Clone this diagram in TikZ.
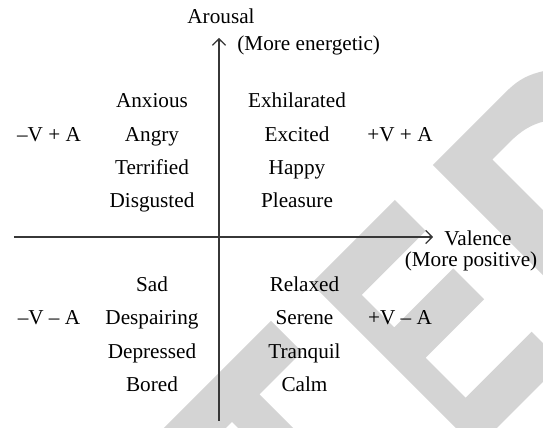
\documentclass[tikz,border=0pt]{standalone}
\usepackage{fontspec}
\setmainfont{Liberation Serif}
\usetikzlibrary{arrows.meta}
\definecolor{wmgray}{RGB}{212,212,212}
\definecolor{axisgray}{RGB}{55,55,55}

\begin{document}
\begin{tikzpicture}[x=0.5pt, y=-0.5pt,
    wordlbl/.style={font=\fontsize{10.6}{12}\selectfont, inner sep=0pt, anchor=base},
    axisline/.style={draw=axisgray, line width=0.65pt, -{Straight Barb[length=3.2pt,width=6.6pt]}},
    wmark/.style={fill=wmgray, draw=none}]
    \useasboundingbox (0,0) rectangle (543,428);

    % Watermark in the background
    \begin{scope}
        \clip (0,0) rectangle (543,428);
        \fill[wmark] (271,321) -- (302,352) -- (259.5,394.5) -- (432.5,567.5) -- (405,595)
            -- (232,422) -- (127,527) -- (96,496) -- cycle;
        \fill[wmark] (311.5,283.5) -- (395,200) -- (425.85,230.85) -- (361.85,294.85)
            -- (394.35,327.35) -- (453.35,268.35) -- (484.2,299.2) -- (425.7,357.7)
            -- (465.7,397.7) -- (531.7,331.7) -- (562.5,362.5) -- (476.5,448.5) -- cycle;
        \fill[wmark, even odd rule] (433,165) -- (509,89) .. controls (524,75) and (536,72) .. (560,68)
            -- (620,68) -- (620,352) -- cycle
            (492.5,159.5) -- (513.5,138.5) .. controls (525,128) and (535,123) .. (550,120)
            -- (620,115) -- (620,287) -- cycle;
    \end{scope}

    % Axes
    \coordinate (vbot) at (219,421);
    \coordinate (vtop) at (219,38);
    \coordinate (hleft) at (14,237);
    \coordinate (hright) at (433,237);
    \draw[axisline] (vbot) -- (vtop);
    \draw[axisline] (hleft) -- (hright);

    % Axis labels
    \node[wordlbl] (arousal) at (221,24) {Arousal};
    \node[wordlbl, anchor=base west] (energetic) at (237,50) {(More energetic)};
    \node[wordlbl, anchor=base west] (valence) at (444,246) {Valence};
    \node[wordlbl] (positive) at (471,267) {(More positive)};

    % Upper left
    \node[wordlbl] (anxious) at (152,107.5) {Anxious};
    \node[wordlbl] (angry) at (152,141) {Angry};
    \node[wordlbl] (terrified) at (152,174.5) {Terrified};
    \node[wordlbl] (disgusted) at (152,208) {Disgusted};
    \node[wordlbl] (nvpa) at (49,141) {–V + A};

    % Upper right
    \node[wordlbl] (exhilarated) at (297,107.5) {Exhilarated};
    \node[wordlbl] (excited) at (297,141) {Excited};
    \node[wordlbl] (happy) at (297,174.5) {Happy};
    \node[wordlbl] (pleasure) at (297,208) {Pleasure};
    \node[wordlbl] (pvpa) at (400,141) {+V + A};

    % Lower left
    \node[wordlbl] (sad) at (152,291.5) {Sad};
    \node[wordlbl] (despairing) at (152,325) {Despairing};
    \node[wordlbl] (depressed) at (152,358.5) {Depressed};
    \node[wordlbl] (bored) at (152,392) {Bored};
    \node[wordlbl] (nvna) at (49,325) {–V – A};

    % Lower right
    \node[wordlbl] (relaxed) at (304.5,291.5) {Relaxed};
    \node[wordlbl] (serene) at (304.5,325) {Serene};
    \node[wordlbl] (tranquil) at (304.5,358.5) {Tranquil};
    \node[wordlbl] (calm) at (304.5,392) {Calm};
    \node[wordlbl] (pvna) at (400,325) {+V – A};
\end{tikzpicture}
\end{document}
